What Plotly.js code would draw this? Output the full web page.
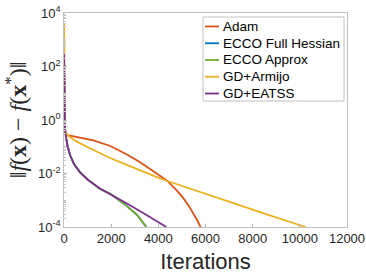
<!DOCTYPE html>
<html><head><meta charset="utf-8">
<script src="https://cdn.plot.ly/plotly-3.0.1.min.js"></script>
<style>html,body{margin:0;padding:0;background:#fff}#chart{width:366px;height:280px}</style>
</head><body><div id="chart"></div>
<script>
// Data (iterations, |f(x)-f(x*)|)
const seriesNames = ["Adam", "ECCO Full Hessian", "ECCO Approx", "GD+Armijo", "GD+EATSS"];
const adamX = [0, 30, 150, 540, 1250, 1960, 2670, 3230, 3800, 4370, 4750, 5060, 5300, 5500, 5650, 5790];
const adamY = [3890, 0.398, 0.269, 0.234, 0.174, 0.107, 0.0513, 0.0263, 0.0120, 0.00537, 0.00251, 0.00120, 0.000603, 0.000316, 0.000178, 0.0001];
const eccoFullX = [0, 40, 85, 150, 255, 425, 680, 1020, 1530, 1960, 2670, 3100, 3490];
const eccoFullY = [288, 0.5, 0.229, 0.107, 0.0490, 0.0224, 0.0110, 0.00575, 0.00263, 0.00174, 0.000603, 0.000282, 0.0001];
const eccoApproxX = [0, 40, 85, 150, 255, 425, 680, 1020, 1530, 1960, 2670, 3100, 3490];
const eccoApproxY = [288, 0.5, 0.229, 0.107, 0.0490, 0.0224, 0.0110, 0.00575, 0.00263, 0.00174, 0.000603, 0.000282, 0.0001];
const armijoX = [0, 30, 150, 540, 1250, 1960, 2660, 3300, 4070, 4380, 5500, 7060, 8500, 10250];
const armijoY = [3890, 0.398, 0.269, 0.155, 0.0759, 0.0380, 0.0209, 0.0120, 0.00661, 0.00525, 0.00251, 0.000851, 0.000316, 0.0001];
const eatssX = [0, 40, 85, 150, 255, 425, 680, 1020, 1530, 2080, 2670, 3480, 4340];
const eatssY = [288, 0.5, 0.229, 0.107, 0.0490, 0.0224, 0.0110, 0.00575, 0.00275, 0.00151, 0.000759, 0.000288, 0.0001];
const xTicks = [0, 2000, 4000, 6000, 8000, 10000, 12000];
const yTicks = [1e-4, 1e-2, 1, 1e2, 1e4];
const yTickText = ["10<sup>-4</sup>", "10<sup>-2</sup>", "10<sup>0</sup>", "10<sup>2</sup>", "10<sup>4</sup>"];
const colors = ["#D95319", "#0072BD", "#77AC30", "#EDB120", "#7E2F8E"];

const xs = [adamX, eccoFullX, eccoApproxX, armijoX, eatssX];
const ys = [adamY, eccoFullY, eccoApproxY, armijoY, eatssY];

const traces = seriesNames.map((n, i) => ({
  x: xs[i], y: ys[i], name: n, type: "scatter", mode: "lines",
  line: {color: colors[i], width: 1.8}, showlegend: false
}));

// Custom MATLAB-like legend (layout decoration)
const L = 64, R = 347, T = 13, B = 227;
const px = v => (v - L) / (R - L);
const py = v => (B - v) / (B - T);
const shapes = [{type: "rect", xref: "paper", yref: "paper",
  x0: px(203), x1: px(344), y0: py(101), y1: py(17),
  line: {color: "#b0b0b0", width: 0.8}, fillcolor: "#ffffff", layer: "above"}];
const annotations = [];
seriesNames.forEach((n, i) => {
  const yy = 26.5 + i * 16.75;
  shapes.push({type: "line", xref: "paper", yref: "paper",
    x0: px(205), x1: px(219), y0: py(yy), y1: py(yy),
    line: {color: colors[i], width: 1.8}, layer: "above"});
  annotations.push({xref: "paper", yref: "paper", x: px(221), y: py(yy),
    xanchor: "left", yanchor: "middle", showarrow: false, text: n,
    font: {family: "Liberation Sans, Arial", size: 13.5, color: "#000"}});
});

const layout = {
  width: 366, height: 280,
  margin: {l: L, r: 366 - R, t: T, b: 280 - B},
  paper_bgcolor: "#fff", plot_bgcolor: "#fff",
  font: {family: "Liberation Sans, Arial", color: "#262626"},
  xaxis: {range: [0, 12000], tickvals: xTicks, ticktext: xTicks.map(String),
    ticks: "inside", ticklen: 3, tickcolor: "#b0b0b0", showline: true, mirror: true,
    linecolor: "#b0b0b0", linewidth: 0.8, showgrid: false, zeroline: false,
    tickfont: {size: 13, color: "#262626"},
    title: {text: "Iterations", font: {size: 22, color: "#262626"}, standoff: 8}},
  yaxis: {type: "log", range: [-4, 4], tickvals: yTicks, ticktext: yTickText,
    ticks: "inside", ticklen: 3, tickcolor: "#b0b0b0", showline: true, mirror: true,
    linecolor: "#b0b0b0", linewidth: 0.8, showgrid: false, zeroline: false,
    minor: {ticks: "inside", ticklen: 2, tickcolor: "#c8c8c8", dtick: "D1"},
    tickfont: {size: 13, color: "#262626"},
    title: {text: "‖<i>f</i>(<b>x</b>) − <i>f</i>(<b>x</b><sup>*</sup>)‖", font: {family: "Liberation Serif", size: 24, color: "#262626"}, standoff: 4}},
  shapes: shapes, annotations: annotations, showlegend: false
};
Plotly.newPlot("chart", traces, layout, {staticPlot: true});
</script></body></html>
